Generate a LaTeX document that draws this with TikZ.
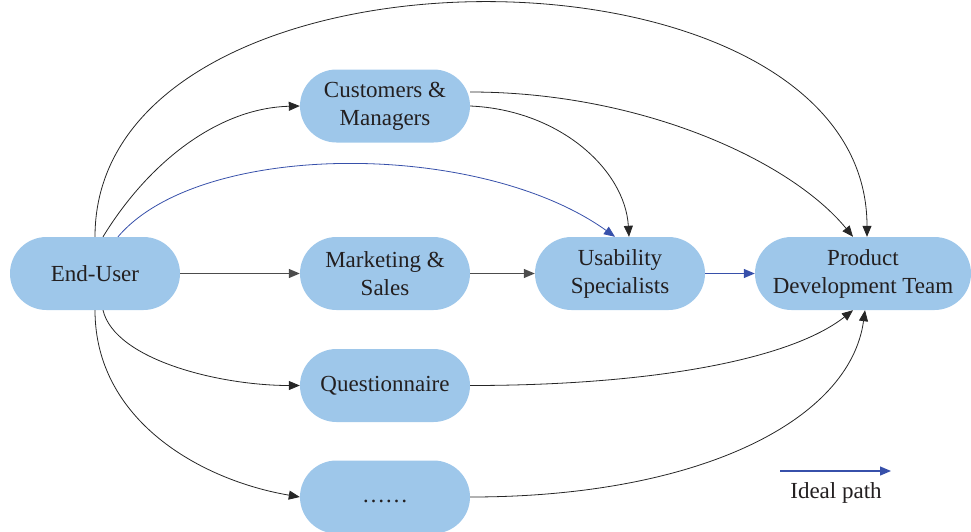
\documentclass[tikz,border=0pt]{standalone}
\usepackage{fontspec}
\setmainfont{Liberation Serif}
\newfontfamily\tnr{Liberation Serif}
\usetikzlibrary{shapes.misc,arrows.meta,calc}
\definecolor{boxfill}{RGB}{158,199,234}
\definecolor{txt}{RGB}{35,31,32}
\definecolor{ideal}{RGB}{55,80,170}
\tikzset{
  box/.style={rounded rectangle, fill=boxfill, draw=none, minimum width=170pt, minimum height=73pt,
    inner sep=0pt, align=center, text=txt, font=\tnr\fontsize{23}{28}\selectfont},
  conn/.style={draw=black!85, line width=0.8pt, -{Triangle[length=11pt,width=9pt]}},
  straight/.style={draw=black!70, line width=1.2pt, -{Triangle[length=11pt,width=9pt]}},
  idealc/.style={draw=ideal, line width=0.8pt, -{Triangle[length=11pt,width=9pt]}},
}
\begin{document}
\begin{tikzpicture}[x=1pt,y=-1pt]
\clip (0,0) rectangle (971,531);
\node[box] (eu) at (95,273.5) {End-User};
\node[box] (cm) at (385,106) {Customers \&\\Managers};
\node[box] (ms) at (385,273.5) {Marketing \&\\Sales};
\node[box] (us) at (620,273.5) {Usability\\Specialists};
\node[box, minimum width=216pt] (pd) at (863,273.5) {Product\\Development Team};
\node[box] (qu) at (385,385.5) {Questionnaire};
\node[box] (dots) at (385,497) {\strut……};

% straight
\draw[straight] (eu.east) -- (ms.west);
\draw[straight] (ms.east) -- (us.west);
\draw[idealc, line width=1.2pt] (us.east) -- (pd.west);

% top arc
\draw[conn] (eu.north) .. controls (95,-75) and (867,-75) .. ($(pd.north)+(4,0)$);
% end-user to customers
\draw[conn] ($(eu.north)+(8,0)$) .. controls (150,160) and (220,108) .. (cm.west);
% ideal path curve
\draw[idealc] ($(eu.north)+(23,0)$) .. controls (200,140) and (480,140) .. ($(us.north)+(-5,0)$);
% customers to product
\draw[conn] ($(cm.east)+(0,-14)$) .. controls (640,92) and (790,160) .. ($(pd.north)+(-10,0)$);
% customers to usability
\draw[conn] ($(cm.east)+(0,0)$) .. controls (560,110) and (625,170) .. ($(us.north)+(9,0)$);
% end-user to questionnaire
\draw[conn] ($(eu.south)+(8,0)$) .. controls (115,360) and (220,385.5) .. (qu.west);
% end-user to dots
\draw[conn] (eu.south) .. controls (95,420) and (200,480) .. (dots.west);
% questionnaire to product
\draw[conn] (qu.east) .. controls (650,385.5) and (790,360) .. ($(pd.south)+(-10,0)$);
% dots to product
\draw[conn] (dots.east) .. controls (700,497) and (850,420) .. ($(pd.south)+(2,0)$);

% legend
\coordinate (la) at (780,471);
\coordinate (lb) at (891,471);
\draw[idealc, line width=1.2pt] (la) -- (lb);
\node[text=txt, font=\tnr\fontsize{23}{28}\selectfont] (lt) at (836,493) {Ideal path};
\end{tikzpicture}
\end{document}
